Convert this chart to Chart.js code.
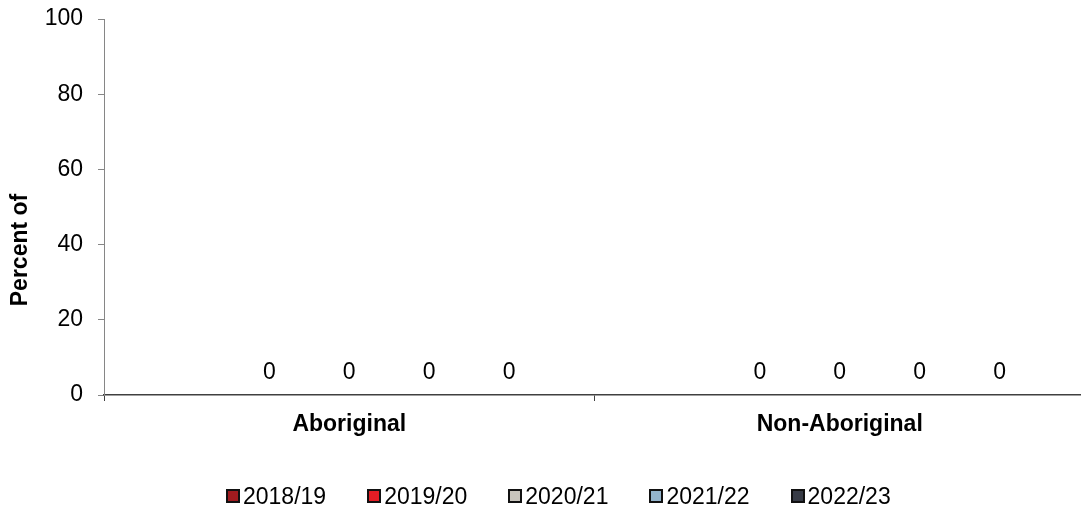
<!DOCTYPE html>
<html>
<head>
<meta charset="utf-8">
<script src="https://cdn.jsdelivr.net/npm/chart.js@4.4.1/dist/chart.umd.min.js"></script>
<style>
  html, body { margin: 0; padding: 0; background: #ffffff; overflow: hidden; }
  #wrap { position: relative; width: 1081px; height: 508px; overflow: hidden; }
  #chart { position: absolute; left: 0; top: 0; }
  #legend {
    position: absolute; left: 226px; top: 482px;
    display: flex; align-items: center;
    font-family: "Liberation Sans", Arial, sans-serif; font-size: 23px; color: #000;
    line-height: 28px; white-space: nowrap;
  }
  .item { display: flex; align-items: center; margin-right: 41px; }
  .box { width: 10px; height: 10px; border: 2px solid #111; margin-right: 3px; }
</style>
</head>
<body>
<div id="wrap">
  <canvas id="chart" width="1090" height="508"></canvas>
  <div id="legend"></div>
</div>
<script>
// Categories, series and axis settings
const categories = ['Aboriginal', 'Non-Aboriginal'];
const seriesNames = ['2018/19', '2019/20', '2020/21', '2021/22', '2022/23'];
const seriesColors = ['#A01B1F', '#E41D25', '#C8C4BC', '#94B4CC', '#373B46'];
const v2018 = [null, null];
const v2019 = [0, 0];
const v2020 = [0, 0];
const v2021 = [0, 0];
const v2022 = [0, 0];
const seriesValues = [v2018, v2019, v2020, v2021, v2022];
const yTicks = [0, 20, 40, 60, 80, 100];
const yTitle = 'Percent of';

const FONT = '"Liberation Sans", Arial, sans-serif';

// Value labels above each bar
const valueLabels = {
  id: 'valueLabels',
  afterDatasetsDraw(chart) {
    const ctx = chart.ctx;
    ctx.save();
    ctx.font = '23px ' + FONT;
    ctx.fillStyle = '#000';
    ctx.textAlign = 'center';
    ctx.textBaseline = 'alphabetic';
    chart.data.datasets.forEach((ds, i) => {
      const meta = chart.getDatasetMeta(i);
      meta.data.forEach((bar, j) => {
        const v = ds.data[j];
        if (v === null || v === undefined) return;
        ctx.fillText(String(v), bar.x, bar.y - 16);
      });
    });
    ctx.restore();
  }
};

// Rotated y-axis title
const yAxisTitle = {
  id: 'yAxisTitle',
  afterDraw(chart) {
    const a = chart.chartArea;
    const ctx = chart.ctx;
    ctx.save();
    ctx.translate(27, (a.top + a.bottom) / 2 + 43);
    ctx.rotate(-Math.PI / 2);
    ctx.font = 'bold 23px ' + FONT;
    ctx.fillStyle = '#000';
    ctx.textAlign = 'center';
    ctx.textBaseline = 'alphabetic';
    ctx.fillText(yTitle, 0, 0);
    ctx.restore();
  }
};

new Chart(document.getElementById('chart'), {
  type: 'bar',
  data: {
    labels: categories,
    datasets: seriesNames.map((name, i) => ({
      label: name,
      data: seriesValues[i],
      backgroundColor: seriesColors[i],
      borderColor: '#111',
      borderWidth: 0
    }))
  },
  options: {
    responsive: false,
    animation: false,
    layout: { padding: { top: 19, right: 5, bottom: 0, left: 0 } },
    plugins: { legend: { display: false }, tooltip: { enabled: false } },
    datasets: { bar: { categoryPercentage: 0.815, barPercentage: 0.6 } },
    scales: {
      x: {
        offset: true,
        grid: { offset: true, drawOnChartArea: false, drawTicks: true, tickLength: 6, color: '#404040' },
        border: { color: '#404040', width: 1.5 },
        ticks: { color: '#000', font: { family: FONT, size: 23, weight: 'bold' }, padding: 10, maxRotation: 0 },
        afterFit(scale) { scale.height = 113; }
      },
      y: {
        min: 0, max: 100,
        afterBuildTicks(scale) { scale.ticks = yTicks.map(v => ({ value: v })); },
        grid: { drawOnChartArea: false, drawTicks: true, tickLength: 6, color: '#868686' },
        border: { color: '#868686', width: 1 },
        ticks: { color: '#000', font: { family: FONT, size: 23, lineHeight: 0.6 }, padding: 15 },
        afterFit(scale) {
          scale.width = 104;
          scale.paddingTop = 0;
          scale.paddingBottom = 0;
        }
      }
    }
  },
  plugins: [valueLabels, yAxisTitle]
});

// Legend built from the series arrays
const legend = document.getElementById('legend');
seriesNames.forEach((name, i) => {
  const item = document.createElement('div');
  item.className = 'item';
  const box = document.createElement('span');
  box.className = 'box';
  box.style.background = seriesColors[i];
  const txt = document.createElement('span');
  txt.textContent = name;
  item.appendChild(box);
  item.appendChild(txt);
  legend.appendChild(item);
});
</script>
</body>
</html>
